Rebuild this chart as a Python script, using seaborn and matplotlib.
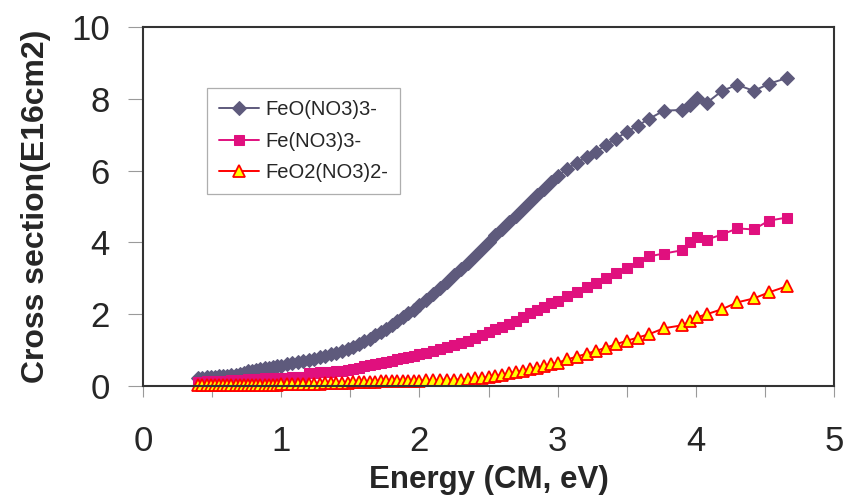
import matplotlib
matplotlib.use("Agg")
import matplotlib.pyplot as plt
import seaborn as sns
from matplotlib.ticker import MultipleLocator

# ---- data ----
energy = [0.40, 0.43, 0.46, 0.49, 0.52, 0.55, 0.58, 0.61, 0.64, 0.67, 0.70,
          0.73, 0.76, 0.79, 0.82, 0.85, 0.88, 0.91, 0.94, 0.97, 1.00,
          1.04, 1.08, 1.12, 1.16, 1.20, 1.24, 1.28, 1.32, 1.36, 1.40, 1.44,
          1.48, 1.52, 1.56, 1.60, 1.64, 1.68, 1.72, 1.76, 1.80, 1.84, 1.88,
          1.92, 1.96, 2.00,
          2.05, 2.10, 2.15, 2.20, 2.25, 2.30, 2.35, 2.40, 2.45, 2.50, 2.55,
          2.60, 2.65, 2.70, 2.75, 2.80, 2.85, 2.90, 2.95, 3.00,
          3.07, 3.14, 3.21, 3.28, 3.35, 3.42, 3.50, 3.58,
          3.66, 3.77, 3.90, 3.96, 4.01, 4.08, 4.19, 4.30, 4.42, 4.53, 4.66]

feo_no3_3 = [0.22, 0.23, 0.24, 0.25, 0.26, 0.27, 0.28, 0.29, 0.30, 0.32, 0.34,
             0.36, 0.42, 0.43, 0.45, 0.47, 0.49, 0.51, 0.53, 0.55, 0.57,
             0.60, 0.63, 0.66, 0.70, 0.73, 0.76, 0.80, 0.84, 0.88, 0.93, 0.98,
             1.03, 1.09, 1.16, 1.24, 1.32, 1.41, 1.50, 1.60, 1.70, 1.80, 1.91,
             2.02, 2.13, 2.26,
             2.40, 2.56, 2.73, 2.90, 3.08, 3.26, 3.44, 3.63, 3.82, 4.01, 4.20,
             4.38, 4.56, 4.74, 4.92, 5.12, 5.32, 5.50, 5.68, 5.85,
             6.05, 6.22, 6.38, 6.52, 6.72, 6.88, 7.08, 7.25,
             7.44, 7.67, 7.69, 7.83, 8.03, 7.89, 8.22, 8.39, 8.22, 8.42, 8.58]

fe_no3_3 = [0.12, 0.12, 0.13, 0.13, 0.14, 0.14, 0.15, 0.15, 0.16, 0.17, 0.18,
            0.18, 0.19, 0.19, 0.20, 0.20, 0.21, 0.21, 0.22, 0.22, 0.23,
            0.23, 0.24, 0.25, 0.26, 0.36, 0.37, 0.38, 0.38, 0.39, 0.41, 0.43,
            0.45, 0.47, 0.51, 0.55, 0.58, 0.61, 0.65, 0.68, 0.71, 0.74, 0.77,
            0.80, 0.84, 0.88,
            0.93, 0.98, 1.03, 1.08, 1.14, 1.19, 1.25, 1.33, 1.41, 1.50, 1.58,
            1.65, 1.73, 1.82, 1.92, 2.02, 2.11, 2.20, 2.30, 2.38,
            2.50, 2.62, 2.75, 2.88, 3.00, 3.14, 3.30, 3.45,
            3.61, 3.69, 3.78, 4.00, 4.14, 4.08, 4.22, 4.39, 4.36, 4.61, 4.69]

feo2_no3_2 = [0.04, 0.04, 0.04, 0.04, 0.04, 0.04, 0.04, 0.04, 0.04, 0.04, 0.04,
              0.04, 0.04, 0.04, 0.04, 0.04, 0.04, 0.04, 0.04, 0.04, 0.05,
              0.05, 0.05, 0.05, 0.05, 0.06, 0.06, 0.06, 0.07, 0.07, 0.08, 0.08,
              0.09, 0.10, 0.10, 0.11, 0.11, 0.12, 0.13, 0.13, 0.13, 0.14, 0.14,
              0.14, 0.15, 0.15,
              0.16, 0.16, 0.17, 0.17, 0.18, 0.18, 0.19, 0.21, 0.23, 0.25, 0.28,
              0.31, 0.35, 0.39, 0.43, 0.47, 0.51, 0.55, 0.60, 0.65,
              0.74, 0.82, 0.90, 0.98, 1.07, 1.16, 1.26, 1.35,
              1.44, 1.61, 1.69, 1.80, 1.92, 2.00, 2.14, 2.33, 2.44, 2.61, 2.78]

series_labels = ["FeO(NO3)3-", "Fe(NO3)3-", "FeO2(NO3)2-"]
x_ticks = [0, 1, 2, 3, 4, 5]
y_ticks = [0, 2, 4, 6, 8, 10]

# ---- styling ----
sns.set_style("white")
plt.rcParams["font.family"] = ["Liberation Sans", "DejaVu Sans"]

fig = plt.figure(figsize=(8.47, 5.0), dpi=100)
ax = fig.add_axes([143 / 847, 1 - 386 / 500, (834 - 143) / 847, (386 - 27) / 500])

sns.lineplot(x=energy, y=feo_no3_3, ax=ax, color="#5E5A7C", linewidth=1.4,
             marker="D", markersize=7, markeredgecolor="#5E5A7C",
             markerfacecolor="#5E5A7C", label=series_labels[0], clip_on=False)
sns.lineplot(x=energy, y=fe_no3_3, ax=ax, color="#E0107E", linewidth=1.4,
             marker="s", markersize=7.5, markeredgecolor="#E0107E",
             markerfacecolor="#E0107E", label=series_labels[1], clip_on=False)
sns.lineplot(x=energy, y=feo2_no3_2, ax=ax, color="#FF0000", linewidth=1.4,
             marker="^", markersize=8.5, markeredgecolor="#FF0000",
             markeredgewidth=1.3, markerfacecolor="#FFFF00",
             label=series_labels[2], clip_on=False)

ax.set_xlim(0, 5)
ax.set_ylim(0, 10)
ax.set_xticks(x_ticks)
ax.set_yticks(y_ticks)
ax.xaxis.set_minor_locator(MultipleLocator(0.5))

for s in ax.spines.values():
    s.set_visible(True)
    s.set_color("#333333")
    s.set_linewidth(1.5)

ax.tick_params(axis="y", which="major", direction="out", length=11, width=0.8,
               color="#9a9a9a", labelsize=25, pad=13, left=True)
ax.tick_params(axis="x", which="both", direction="out", length=8, width=0.8,
               color="#9a9a9a", bottom=True)
ax.tick_params(axis="x", which="major", labelsize=25, pad=20)

ax.set_xlabel("Energy (CM, eV)", fontsize=22.5, fontweight="bold", labelpad=5)
ax.set_ylabel("Cross section(E16cm2)", fontsize=23, fontweight="bold", labelpad=14)

leg = ax.legend(loc="upper left", bbox_to_anchor=((207 - 143) / 691, (386 - 88) / 359),
                borderaxespad=0, fontsize=14.5, frameon=True, fancybox=False,
                edgecolor="#9a9a9a", handlelength=2.0, labelspacing=0.62,
                borderpad=0.6, handletextpad=0.3)
leg.get_frame().set_linewidth(0.9)

fig.savefig("out.png", dpi=100)
